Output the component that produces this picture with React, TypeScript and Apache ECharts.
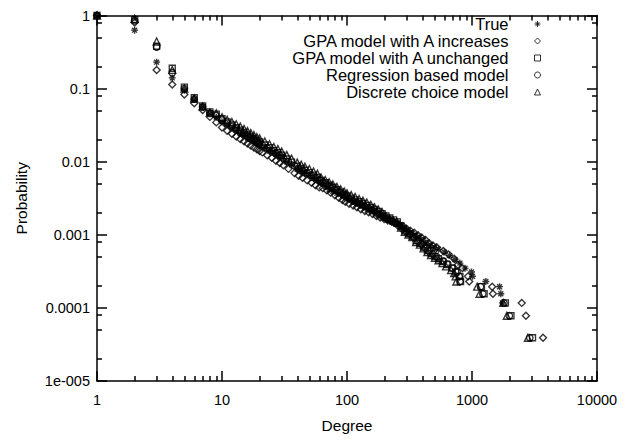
import React, { useEffect, useRef } from "react";
import * as echarts from "echarts";

// Degree values of the dense part of the curves (two interleaved sets)
const degreesA = [
  1, 2, 3, 4, 5, 6, 7, 8, 9, 10, 11, 12, 13, 14, 15, 16, 17, 18, 19, 20, 22, 24, 26, 28, 30, 33, 36, 40,
  43, 46, 50, 54, 58, 62, 67, 72, 77, 83, 89, 95, 100, 108, 116, 125, 134, 144, 155, 166, 178, 191, 205,
  220, 236, 253, 270, 290, 310, 333, 357, 383, 410, 440, 470, 505, 540,
];
const degreesB = [
  1, 2, 3, 4, 5, 6, 7, 8, 9, 10, 11, 12, 13, 14, 15, 16, 17, 18, 19, 20, 21, 23, 25, 27, 29, 31, 34, 38,
  41, 44, 48, 52, 56, 60, 64, 69, 74, 80, 86, 92, 97, 104, 112, 120, 129, 139, 149, 160, 172, 184, 198,
  212, 228, 244, 261, 280, 300, 321, 345, 370, 396, 425, 455, 487, 522,
];

// True (degreesA)
const trueProb = [
  1, 0.63, 0.23, 0.14, 0.095, 0.071, 0.057, 0.047, 0.0405, 0.0352, 0.0322, 0.0288, 0.0268, 0.0244, 0.023,
  0.0211, 0.0201, 0.0187, 0.0179, 0.0168, 0.0155, 0.014, 0.0131, 0.012, 0.0113, 0.0099, 0.00905, 0.00785,
  0.00745, 0.0069, 0.0065, 0.00592, 0.0056, 0.00515, 0.00458, 0.00416, 0.0039, 0.00368, 0.00355, 0.00335,
  0.00314, 0.00299, 0.00279, 0.00266, 0.00248, 0.00238, 0.00218, 0.00209, 0.00192, 0.00183, 0.00167,
  0.0016, 0.00148, 0.00141, 0.00131, 0.00122, 0.00112, 0.00104, 0.000982, 0.000923, 0.00084, 0.000764,
  0.000712, 0.000667, 0.000633,
];
const trueTail = [
  [600, 0.00058], [660, 0.00052], [730, 0.00046], [800, 0.00041], [880, 0.00035], [990, 0.00031],
  [1010, 0.00027], [1290, 0.00023], [1660, 0.000195], [1700, 0.000156], [1750, 0.000117],
];

// GPA model with A increases (degreesB)
const gpaIncProb = [
  1, 0.8, 0.18, 0.114, 0.083, 0.063, 0.051, 0.041, 0.0345, 0.0294, 0.0265, 0.0241, 0.0221, 0.0204, 0.019,
  0.0177, 0.0166, 0.0156, 0.0148, 0.014, 0.0134, 0.0122, 0.0113, 0.0103, 0.00958, 0.00893, 0.00798,
  0.00698, 0.00641, 0.00602, 0.00555, 0.00514, 0.00477, 0.00445, 0.00435, 0.00405, 0.00377, 0.00347,
  0.00322, 0.00299, 0.00283, 0.00266, 0.00251, 0.00238, 0.00224, 0.00211, 0.00203, 0.00192, 0.00181,
  0.00172, 0.00164, 0.00157, 0.00151, 0.00144, 0.00139, 0.00132, 0.00121, 0.00114, 0.00107, 0.000984,
  0.000918, 0.000848, 0.000765, 0.000715, 0.000674,
];
const gpaIncTail = [
  [590, 0.0006], [650, 0.00054], [720, 0.00047], [770, 0.00039], [840, 0.00035], [930, 0.00027],
  [950, 0.00023], [1450, 0.000195], [1470, 0.000156], [2500, 0.000117], [2700, 0.000078], [3700, 0.000039],
];

// GPA model with A unchanged (degreesA)
const gpaSameProb = [
  1, 0.88, 0.38, 0.19, 0.105, 0.075, 0.058, 0.048, 0.0448, 0.0389, 0.0351, 0.0319, 0.0293, 0.027, 0.0251,
  0.0233, 0.0219, 0.0206, 0.0195, 0.0186, 0.0169, 0.0155, 0.0142, 0.0133, 0.0123, 0.0109, 0.00985,
  0.00867, 0.00812, 0.00764, 0.00708, 0.00654, 0.00609, 0.00556, 0.00515, 0.00478, 0.00447, 0.00413,
  0.00384, 0.00357, 0.00339, 0.00318, 0.00301, 0.00283, 0.00268, 0.00253, 0.00236, 0.00222, 0.00208,
  0.00194, 0.00181, 0.0017, 0.0016, 0.0015, 0.00132, 0.00113, 0.00104, 0.000952, 0.000836, 0.000767,
  0.000682, 0.000607, 0.000554, 0.000508, 0.00047,
];
const gpaSameTail = [
  [580, 0.00043], [630, 0.00039], [690, 0.00035], [740, 0.00031], [800, 0.00027], [810, 0.00023],
  [1190, 0.000195], [1250, 0.000156], [1850, 0.000117], [2050, 0.000078], [3050, 0.000039],
];

// Regression based model (degreesB)
const regressionProb = [
  1, 0.85, 0.37, 0.165, 0.1, 0.072, 0.056, 0.046, 0.0428, 0.0372, 0.0335, 0.0305, 0.028, 0.0258, 0.024,
  0.0223, 0.0209, 0.0197, 0.0186, 0.0178, 0.0169, 0.0154, 0.0142, 0.0131, 0.0122, 0.0113, 0.0101,
  0.00882, 0.00809, 0.0076, 0.00701, 0.0065, 0.00603, 0.00562, 0.00526, 0.00488, 0.00454, 0.00419,
  0.00388, 0.00361, 0.00341, 0.00312, 0.00289, 0.00274, 0.00258, 0.00243, 0.00229, 0.00214, 0.002,
  0.00188, 0.00175, 0.00164, 0.00154, 0.00144, 0.00133, 0.0012, 0.00111, 0.00102, 0.000911, 0.000819,
  0.000741, 0.000658, 0.000594, 0.000544, 0.0005,
];
const regressionTail = [
  [590, 0.00044], [640, 0.0004], [700, 0.00035], [760, 0.00031], [790, 0.00027], [800, 0.00023],
  [1170, 0.000195], [1220, 0.000156], [1800, 0.000117], [1990, 0.000078], [2900, 0.000039],
];

// Discrete choice model (degreesA)
const discreteProb = [
  1, 0.9, 0.44, 0.18, 0.1, 0.073, 0.057, 0.047, 0.046, 0.0407, 0.0375, 0.0348, 0.0326, 0.0302, 0.0281,
  0.0262, 0.0246, 0.0231, 0.0218, 0.0209, 0.0189, 0.0173, 0.0159, 0.0149, 0.0138, 0.0123, 0.011,
  0.00972, 0.00911, 0.00856, 0.00794, 0.00733, 0.00683, 0.00609, 0.00563, 0.00523, 0.00489, 0.00452,
  0.00419, 0.00391, 0.0037, 0.00349, 0.0033, 0.00309, 0.00293, 0.00277, 0.00258, 0.00238, 0.00222,
  0.00204, 0.00181, 0.00166, 0.00156, 0.00147, 0.00126, 0.0011, 0.00101, 0.00093, 0.000798, 0.000733,
  0.000652, 0.00058, 0.000529, 0.000485, 0.000448,
];
const discreteTail = [
  [580, 0.00041], [620, 0.00037], [680, 0.00033], [720, 0.0003], [740, 0.00027], [750, 0.00023],
  [1100, 0.000195], [1150, 0.000156], [1780, 0.000117], [1900, 0.000078], [2800, 0.000039],
];

const seriesNames = [
  "True",
  "GPA model with A increases",
  "GPA model with A unchanged",
  "Regression based model",
  "Discrete choice model",
];

// Axis ticks and their labels
const xMajorTicks = [1, 10, 100, 1000, 10000];
const xTickLabels = ["1", "10", "100", "1000", "10000"];
const xMinorSteps = [2, 3, 4, 5, 6, 7, 8, 9];
const yMajorTicks = [0.00001, 0.0001, 0.001, 0.01, 0.1, 1];
const yTickLabels = ["1e-005", "0.0001", "0.001", "0.01", "0.1", "1"];
const yMinorSteps = [2, 5, 8];

const FONT = "'Liberation Sans', Arial, Helvetica, sans-serif";
const INK = "#000";

// gnuplot-style asterisk (plus and cross overlaid)
const ASTERISK = "path://M5,0L5,10M0,5L10,5M1.5,1.5L8.5,8.5M8.5,1.5L1.5,8.5";

function minorTicks(majors: number[], steps: number[]) {
  const out: number[] = [];
  for (let i = 0; i < majors.length - 1; i++) {
    for (const s of steps) out.push(majors[i] * s);
  }
  return out;
}

function labelFor(ticks: number[], labels: string[]) {
  return (v: number) => {
    const idx = ticks.findIndex((t) => Math.abs(Math.log10(t) - Math.log10(v)) < 1e-6);
    return idx >= 0 ? labels[idx] : "";
  };
}

function pairs(degs: number[], probs: number[], tail: number[][]) {
  return degs.map((d, i) => [d, probs[i]]).concat(tail);
}

export default function App() {
  const ref = useRef<HTMLDivElement>(null);

  useEffect(() => {
    if (!ref.current) return;
    const chart = echarts.init(ref.current, undefined, { renderer: "svg" });

    const line = { color: INK, width: 1.5 };
    const tickFont = { color: INK, fontSize: 14.5, fontFamily: FONT };
    const nameFont = { color: INK, fontSize: 15.5, fontFamily: FONT };
    const keyFont = { color: INK, fontSize: 16.5, fontFamily: FONT };
    const xMinor = minorTicks(xMajorTicks, xMinorSteps);
    const yMinor = minorTicks(yMajorTicks, yMinorSteps);

    const xBase = { type: "log" as const, logBase: 10, min: 1, max: 10000, splitLine: { show: false } };
    const yBase = { type: "log" as const, logBase: 10, min: 0.00001, max: 1, splitLine: { show: false } };

    const xAxes = [
      {
        ...xBase,
        position: "bottom",
        axisLine: { show: true, lineStyle: line },
        axisTick: { show: true, inside: true, length: 10, lineStyle: line, customValues: xMajorTicks },
        axisLabel: {
          ...tickFont,
          margin: 11,
          customValues: xMajorTicks,
          formatter: labelFor(xMajorTicks, xTickLabels),
        },
        name: "Degree",
        nameLocation: "middle",
        nameGap: 36,
        nameTextStyle: nameFont,
      },
      {
        ...xBase,
        position: "bottom",
        axisLine: { show: false },
        axisTick: { show: true, inside: true, length: 5, lineStyle: line, customValues: xMinor },
        axisLabel: { show: false },
      },
      {
        ...xBase,
        position: "top",
        axisLine: { show: true, lineStyle: line },
        axisTick: { show: true, inside: true, length: 10, lineStyle: line, customValues: xMajorTicks },
        axisLabel: { show: false },
      },
      {
        ...xBase,
        position: "top",
        axisLine: { show: false },
        axisTick: { show: true, inside: true, length: 5, lineStyle: line, customValues: xMinor },
        axisLabel: { show: false },
      },
    ];

    const yAxes = [
      {
        ...yBase,
        position: "left",
        axisLine: { show: true, lineStyle: line },
        axisTick: { show: true, inside: true, length: 10, lineStyle: line, customValues: yMajorTicks },
        axisLabel: {
          ...tickFont,
          margin: 7,
          customValues: yMajorTicks,
          formatter: labelFor(yMajorTicks, yTickLabels),
        },
        name: "Probability",
        nameLocation: "middle",
        nameRotate: 90,
        nameGap: 68,
        nameTextStyle: nameFont,
      },
      {
        ...yBase,
        position: "left",
        axisLine: { show: false },
        axisTick: { show: true, inside: true, length: 5, lineStyle: line, customValues: yMinor },
        axisLabel: { show: false },
      },
      {
        ...yBase,
        position: "right",
        axisLine: { show: true, lineStyle: line },
        axisTick: { show: true, inside: true, length: 10, lineStyle: line, customValues: yMajorTicks },
        axisLabel: { show: false },
      },
      {
        ...yBase,
        position: "right",
        axisLine: { show: false },
        axisTick: { show: true, inside: true, length: 5, lineStyle: line, customValues: yMinor },
        axisLabel: { show: false },
      },
    ];

    const seriesData = [
      pairs(degreesA, trueProb, trueTail),
      pairs(degreesB, gpaIncProb, gpaIncTail),
      pairs(degreesA, gpaSameProb, gpaSameTail),
      pairs(degreesB, regressionProb, regressionTail),
      pairs(degreesA, discreteProb, discreteTail),
    ];
    const symbols = [ASTERISK, "diamond", "rect", "circle", "triangle"];
    const sizes = [7, 7, 6, 6.5, 7];

    chart.setOption({
      animation: false,
      backgroundColor: "#fff",
      textStyle: { fontFamily: FONT },
      grid: {
        left: 97,
        right: 40,
        top: 15.5,
        bottom: 59,
        containLabel: false,
        outerBoundsMode: "none",
      },
      legend: {
        orient: "vertical",
        align: "right",
        right: 96,
        top: 15.5,
        padding: 0,
        itemGap: 0,
        itemWidth: 6,
        itemHeight: 6,
        selectedMode: false,
        data: seriesNames,
        itemStyle: { color: "rgba(0,0,0,0)", borderColor: INK, borderWidth: 1 },
        textStyle: { ...keyFont, lineHeight: 17, padding: [0, 21, 0, 0] },
      },
      xAxis: xAxes,
      yAxis: yAxes,
      series: seriesNames.map((name, i) => ({
        name,
        type: "scatter",
        xAxisIndex: 0,
        yAxisIndex: 0,
        symbol: symbols[i],
        symbolSize: sizes[i],
        silent: true,
        emphasis: { disabled: true },
        itemStyle: { color: "rgba(0,0,0,0)", borderColor: INK, borderWidth: 1.35 },
        data: seriesData[i],
      })),
    });

    return () => chart.dispose();
  }, []);

  return (
    <div
      ref={ref}
      style={{ position: "fixed", left: 0, top: 0, width: 637, height: 440, background: "#fff" }}
    />
  );
}
